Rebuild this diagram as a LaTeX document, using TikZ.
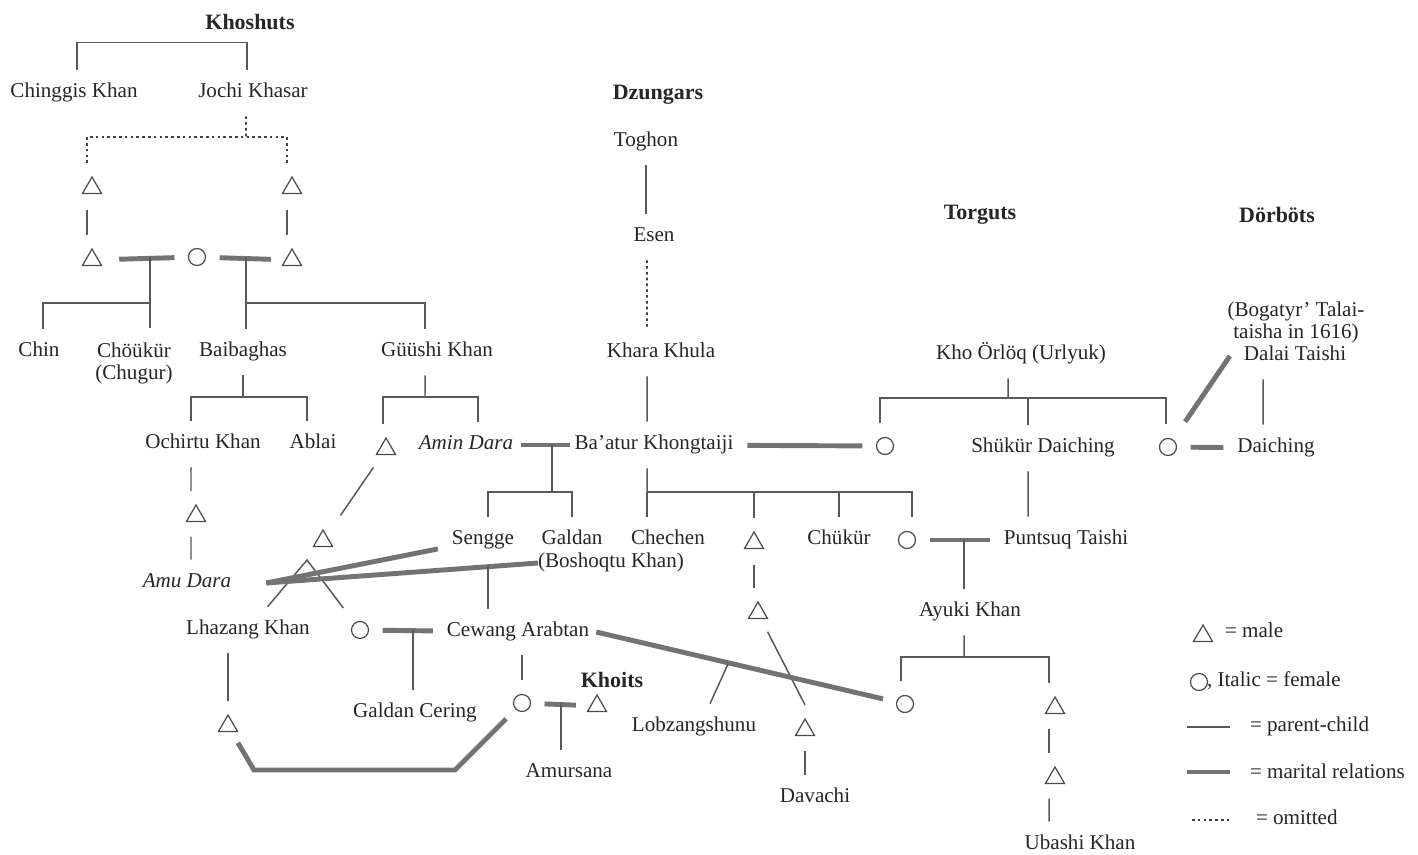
\documentclass[tikz,border=0pt]{standalone}
\usepackage{fontspec}
\setmainfont{Liberation Serif}
\usetikzlibrary{shapes.geometric}

\begin{document}
\begin{tikzpicture}[x=0.02cm, y=-0.02cm,
        every node/.style={text=black!85},
        pname/.style={font=\fontsize{12}{13}\selectfont, inner sep=0pt, outer sep=8pt, text height=8pt, text depth=2.5pt},
        pnote/.style={font=\fontsize{12}{12.5}\selectfont, inner sep=0pt, outer sep=8pt, align=center},
        fem/.style={pname, font=\fontsize{12}{13}\selectfont\itshape},
        clan/.style={font=\fontsize{12.5}{14}\selectfont\bfseries, inner sep=0pt},
        male/.style={draw=black!70, line width=0.7pt, regular polygon, regular polygon sides=3, minimum size=0.44cm, inner sep=0pt, outer sep=4pt},
        female/.style={draw=black!70, line width=0.7pt, circle, minimum size=0.34cm, inner sep=0pt, outer sep=8pt},
        kin/.style={draw=black!65, line width=0.85pt},
        wed/.style={draw=black!55, line width=2.8pt},
        omit/.style={draw=black!75, line width=1.1pt, dash pattern=on 1.5pt off 1.8pt}]

    \path[use as bounding box, fill=white] (0,0) rectangle (1418,855);

    \node[clan] (khoshuts) at (250,22) {Khoshuts};
    \node[clan] (dzungars) at (658,95) {Dzungars};
    \node[clan] (torguts) at (980,215) {Torguts};
    \node[clan] (dorbots) at (1277,215) {Dörböts};
    \node[clan] (khoits) at (612,680) {Khoits};

    \node[pname] (chinggis) at (74,93) {Chinggis Khan};
    \node[pname] (jochi) at (253,93) {Jochi Khasar};
    \node[male] (ta) at (92,188) {};
    \node[male] (tb) at (292,188) {};
    \node[male] (tc) at (92,260) {};
    \node[female] (cf) at (197,257) {};
    \node[male] (td) at (292,260) {};

    \node[pname] (chin) at (39,352) {Chin};
    \node[pnote] (chokur) at (134,363) {Chöükür\\(Chugur)};
    \node[pname] (baib) at (243,352) {Baibaghas};
    \node[pname] (guushi) at (437,352) {Güüshi Khan};
    \node[pname] (ochirtu) at (203,444) {Ochirtu Khan};
    \node[pname] (ablai) at (313,444) {Ablai};
    \node[male] (tg) at (386,449) {};
    \node[fem] (amin) at (466,445) {Amin Dara};

    \node[pname] (toghon) at (646,142) {Toghon};
    \node[pname] (esen) at (654,237) {Esen};
    \node[pname] (khara) at (661,353) {Khara Khula};
    \node[pname] (batur) at (654,445) {Ba'atur Khongtaiji};
    \node[female] (cw1) at (885,446) {};

    \node[pname] (korl) at (1021,355) {Kho Örlöq (Urlyuk)};
    \node[pname] (shukur) at (1043,448) {Shükür Daiching};
    \node[female] (cw2) at (1168,447) {};
    \node[pnote] (bogatyr) at (1296,322) {(Bogatyr' Talai-\\taisha in 1616)};
    \node[pname] (dalai) at (1295,356) {Dalai Taishi};
    \node[pname] (daiching) at (1276,448) {Daiching};

    \node[male] (toch) at (196,516) {};
    \node[fem] (amu) at (187,583) {Amu Dara};
    \node[male] (tl) at (323,541) {};
    \node[pname] (sengge) at (483,540) {Sengge};
    \node[pname] (galdan) at (572,540) {Galdan};
    \node[pname, anchor=west, outer sep=0pt] (bosh) at (538,563) {(Boshoqtu Khan)};
    \node[pname] (chechen) at (668,540) {Chechen};
    \node[male] (tb2) at (754,543) {};
    \node[pname] (chukur) at (839,540) {Chükür};
    \node[female] (cp) at (907,540) {};
    \node[pname] (puntsuq) at (1066,540) {Puntsuq Taishi};

    \node[male] (tb3) at (758,613) {};
    \node[pname] (ayuki) at (970,612) {Ayuki Khan};
    \node[pname] (lhazang) at (248,630) {Lhazang Khan};
    \node[female] (cl) at (360,630) {};
    \node[pname] (cewang) at (518,632) {Cewang Arabtan};
    \node[pname] (galdanc) at (415,713) {Galdan Cering};
    \node[male] (tlz) at (228,726) {};
    \node[female] (cc) at (522,703) {};
    \node[male] (tk) at (597,706) {};
    \node[pname] (amursana) at (569,773) {Amursana};
    \node[pname] (lobz) at (694,727) {Lobzangshunu};
    \node[male] (td2) at (805,730) {};
    \node[pname] (davachi) at (815,798) {Davachi};
    \node[female] (ca) at (905,704) {};
    \node[male] (tu) at (1055,708) {};
    \node[male] (tu2) at (1055,778) {};
    \node[pname] (ubashi) at (1080,845) {Ubashi Khan};

    \coordinate (om) at (246,137);
    \coordinate (m1) at (150,257);
    \coordinate (f1) at (150,303);
    \coordinate (m2) at (246,257);
    \coordinate (f2) at (246,303);
    \coordinate (f3) at (243,397);
    \coordinate (f4) at (425,397);
    \coordinate (m3) at (552,445);
    \coordinate (f5) at (552,492);
    \coordinate (f6) at (647,492);
    \coordinate (f7) at (1008,398);
    \coordinate (f7b) at (1028,398);
    \coordinate (v1) at (307,560);
    \coordinate (sg) at (488,566);
    \coordinate (m4) at (413,630);
    \coordinate (m5) at (561,703);
    \coordinate (m6) at (964,540);
    \coordinate (f8) at (964,657);
    \coordinate (lb) at (728,664);
    \coordinate (b1) at (254,770);
    \coordinate (b2) at (455,770);

    \draw[kin] ([xshift=0.06cm]chinggis.north) -- ++(0,-27) -| ([xshift=-0.12cm]jochi.north);
    \draw[omit] ([xshift=-0.14cm]jochi.south) -- (om);
    \draw[omit] ([xshift=-0.1cm]ta.north) |- (om) -| ([xshift=-0.1cm]tb.north);
    \draw[kin, shorten <=0.18cm] ([xshift=-0.1cm]ta.south) -- ([xshift=-0.1cm]tc.north);
    \draw[kin, shorten <=0.18cm] ([xshift=-0.1cm]tb.south) -- ([xshift=-0.1cm]td.north);
    \draw[wed, shorten <=0.26cm] (tc) -- (cf);
    \draw[wed, shorten >=0.14cm] (cf) -- (td);
    \draw[kin] (m1) -- (m1 |- chokur.north);
    \draw[kin] (f1) -| ([xshift=0.08cm]chin.north);
    \draw[kin] (m2) -- (m2 |- baib.north);
    \draw[kin] (f2) -| ([xshift=-0.24cm]guushi.north);
    \draw[kin] (baib) -- (f3);
    \draw[kin] ([xshift=-0.24cm]ochirtu.north) |- (f3) -| ([xshift=-0.12cm]ablai.north);
    \draw[kin] ([xshift=-0.24cm]guushi.south) -- (f4);
    \draw[kin] ([xshift=-0.06cm]tg.north) |- (f4) -| ([xshift=0.24cm]amin.north);
    \draw[kin] ([xshift=-0.1cm]toch.north) -- ([xshift=-0.24cm]ochirtu.south);
    \draw[kin, shorten <=0.16cm] ([xshift=-0.1cm]toch.south) -- ([xshift=0.08cm]amu.north);
    \draw[kin, shorten <=0.14cm, shorten >=0.34cm] (tg) -- (tl);
    \draw[kin, shorten >=0.1cm] (lhazang) -- (v1) -- (cl);

    \draw[kin] (toghon) -- (toghon |- esen.north);
    \draw[omit] ([xshift=-0.14cm]esen.south) -- ([xshift=-0.28cm]khara.north);
    \draw[kin] ([xshift=-0.28cm]khara.south) -- ([xshift=-0.14cm]batur.north);
    \draw[wed, shorten <=-0.12cm, shorten >=-0.18cm] (amin) -- (batur);
    \draw[kin] (m3) -- (f5);
    \draw[kin] ([xshift=0.1cm]sengge.north) |- (f5) -| (galdan.north);
    \draw[wed] (batur) -- (cw1);
    \draw[kin] ([xshift=-0.14cm]batur.south) -- (f6);
    \draw[kin] (f6) -- (f6 |- chechen.north);
    \draw[kin] (f6) -| ([xshift=0.1cm]cp.north);
    \draw[kin] (tb2 |- f6) -- (tb2);
    \draw[kin] (chukur |- f6) -- (chukur);
    \draw[kin, shorten <=0.18cm] (tb2) -- (tb2 |- tb3.north);
    \draw[kin, shorten <=0.14cm] (tb3) -- (td2.north);
    \draw[kin, shorten <=0.16cm] (td2) -- (td2 |- davachi.north);

    \draw[wed] ([xshift=0.42cm]amu.east) -- (sengge);
    \draw[wed] ([xshift=0.42cm]amu.east) -- (bosh.west);
    \draw[kin] (sg) -- (sg |- cewang.north);
    \draw[wed] (cl) -- (cewang);
    \draw[kin] (m4) -- (m4 |- galdanc.north);
    \draw[kin] (cc) -- (cc |- cewang.south);
    \draw[wed, shorten >=0.14cm] (cc) -- (tk);
    \draw[kin] (m5) -- (m5 |- amursana.north);
    \draw[kin] (tlz) -- (tlz |- lhazang.south);
    \draw[wed, shorten <=0.1cm] (tlz) -- (b1) -- (b2) -- (cc);
    \draw[wed] ([xshift=-0.14cm]cewang.east) -- (ca);
    \draw[kin] ([xshift=0.32cm]lobz.north) -- (lb);

    \draw[kin] ([xshift=-0.26cm]korl.south) -- (f7);
    \draw[kin] ([xshift=-0.1cm]cw1.north) |- (f7) -| ([xshift=-0.04cm]cw2.north);
    \draw[kin] (f7b) -- (f7b |- shukur.north);
    \draw[kin] ([xshift=-0.3cm]shukur.south) -- ([xshift=-0.76cm]puntsuq.north);
    \draw[wed] (cp) -- (puntsuq);
    \draw[kin] (m6) -- (m6 |- ayuki.north);
    \draw[kin] ([xshift=-0.12cm]ayuki.south) -- (f8);
    \draw[kin] ([xshift=-0.08cm]ca.north) |- (f8) -| ([xshift=-0.12cm]tu.north);
    \draw[kin, shorten <=0.16cm] ([xshift=-0.12cm]tu.south) -- ([xshift=-0.12cm]tu2.north);
    \draw[kin, shorten <=0.16cm] ([xshift=-0.12cm]tu2.south) -- ([xshift=-0.62cm]ubashi.north);
    \draw[wed] (cw2) -- (daiching);
    \draw[wed, shorten <=0.16cm] (cw2) -- (dalai.west);
    \draw[kin] ([xshift=-0.64cm]dalai.south) -- ([xshift=-0.26cm]daiching.north);

    \node[male] (lgm) at (1203,636) {};
    \node[pname, anchor=west, outer sep=0pt] (lgmt) at (1225,633) {= male};
    \node[female] (lgf) at (1199,682) {};
    \node[pname, anchor=west, outer sep=0pt] (lgft) at (1207,682) {, Italic = female};
    \coordinate (lk1) at (1187,727);
    \coordinate (lk2) at (1230,727);
    \draw[kin] (lk1) -- (lk2);
    \node[pname, anchor=west, outer sep=0pt] (lgkt) at (1250,727) {= parent-child};
    \coordinate (lw1) at (1187,772);
    \coordinate (lw2) at (1230,772);
    \draw[wed] (lw1) -- (lw2);
    \node[pname, anchor=west, outer sep=0pt] (lgwt) at (1250,774) {= marital relations};
    \coordinate (lo1) at (1192,820);
    \coordinate (lo2) at (1230,820);
    \draw[omit] (lo1) -- (lo2);
    \node[pname, anchor=west, outer sep=0pt] (lgot) at (1256,820) {= omitted};
\end{tikzpicture}
\end{document}
